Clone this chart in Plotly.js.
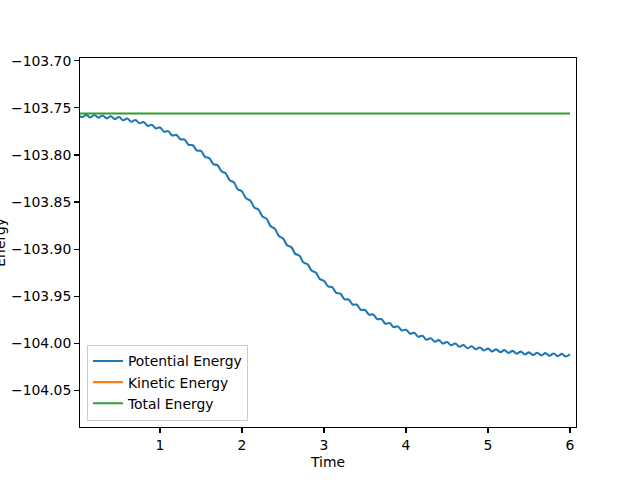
<!DOCTYPE html>
<html>
<head>
<meta charset="utf-8">
<script src="https://cdn.plot.ly/plotly-3.0.1.min.js"></script>
<style>html,body{margin:0;padding:0;background:#fff;}#chart{width:640px;height:480px;}</style>
</head>
<body>
<div id="chart"></div>
<script>
// Time samples (every 0.05)
const time = [0.00,0.05,0.10,0.15,0.20,0.25,0.30,0.35,0.40,0.45,0.50,0.55,0.60,0.65,0.70,0.75,0.80,0.85,0.90,0.95,
1.00,1.05,1.10,1.15,1.20,1.25,1.30,1.35,1.40,1.45,1.50,1.55,1.60,1.65,1.70,1.75,1.80,1.85,1.90,1.95,
2.00,2.05,2.10,2.15,2.20,2.25,2.30,2.35,2.40,2.45,2.50,2.55,2.60,2.65,2.70,2.75,2.80,2.85,2.90,2.95,
3.00,3.05,3.10,3.15,3.20,3.25,3.30,3.35,3.40,3.45,3.50,3.55,3.60,3.65,3.70,3.75,3.80,3.85,3.90,3.95,
4.00,4.05,4.10,4.15,4.20,4.25,4.30,4.35,4.40,4.45,4.50,4.55,4.60,4.65,4.70,4.75,4.80,4.85,4.90,4.95,
5.00,5.05,5.10,5.15,5.20,5.25,5.30,5.35,5.40,5.45,5.50,5.55,5.60,5.65,5.70,5.75,5.80,5.85,5.90,5.95,6.00];

// Potential energy (oscillating)
const potentialEnergy = [
-103.7572,-103.7599,-103.7574,-103.7601,-103.7576,-103.7603,-103.7581,-103.7611,-103.7589,-103.7619,
-103.7597,-103.7631,-103.7613,-103.7647,-103.7629,-103.7663,-103.7651,-103.7691,-103.7679,-103.7719,
-103.7707,-103.7753,-103.7747,-103.7793,-103.7787,-103.7833,-103.7837,-103.7893,-103.7897,-103.7953,
-103.7957,-103.8021,-103.8033,-103.8097,-103.8109,-103.8173,-103.8195,-103.8269,-103.8291,-103.8365,
-103.8387,-103.8461,-103.8483,-103.8557,-103.8579,-103.8653,-103.8679,-103.8757,-103.8783,-103.8861,
-103.8887,-103.8959,-103.8979,-103.9051,-103.9071,-103.9143,-103.9161,-103.9231,-103.9249,-103.9319,
-103.9337,-103.9397,-103.9405,-103.9465,-103.9473,-103.9533,-103.9535,-103.9589,-103.9591,-103.9645,
-103.9647,-103.9697,-103.9695,-103.9745,-103.9743,-103.9793,-103.9785,-103.9829,-103.9821,-103.9865,
-103.9857,-103.9899,-103.9889,-103.9931,-103.9921,-103.9963,-103.9947,-103.9983,-103.9967,-104.0003,
-103.9987,-104.0021,-104.0003,-104.0037,-104.0019,-104.0053,-104.0033,-104.0065,-104.0045,-104.0077,
-104.0057,-104.0087,-104.0065,-104.0095,-104.0073,-104.0103,-104.0081,-104.0111,-104.0089,-104.0119,
-104.0097,-104.0125,-104.0101,-104.0129,-104.0105,-104.0133,-104.0109,-104.0137,-104.0113,-104.0141,
-104.0117];

// Kinetic energy lies far above the visible y range (not visible in the plot)
const kineticTime = [0.0, 1.0, 2.0, 3.0, 4.0, 5.0, 6.0];
const kineticEnergy = [0.0015, 0.016, 0.084, 0.178, 0.231, 0.251, 0.257];

// Total energy (constant)
const totalTime = [0.0, 6.0];
const totalEnergy = [-103.756, -103.756];

const seriesNames = ['Potential Energy', 'Kinetic Energy', 'Total Energy'];
const xTicks = [1, 2, 3, 4, 5, 6];
const yTicks = [-103.70, -103.75, -103.80, -103.85, -103.90, -103.95, -104.00, -104.05];

const font = {family: 'DejaVu Sans', size: 13.9, color: '#000'};

const traces = [
  {x: time, y: potentialEnergy, name: seriesNames[0], mode: 'lines',
   line: {color: '#1f77b4', width: 2.08, shape: 'spline', smoothing: 1}},
  {x: kineticTime, y: kineticEnergy, name: seriesNames[1], mode: 'lines',
   line: {color: '#ff7f0e', width: 2.08}},
  {x: totalTime, y: totalEnergy, name: seriesNames[2], mode: 'lines',
   line: {color: '#2ca02c', width: 2.08}}
];

const axisCommon = {
  showline: true, linecolor: '#000', linewidth: 1.11, mirror: true,
  ticks: 'outside', ticklen: 4.86, tickwidth: 1.11, tickcolor: '#000',
  showgrid: false, zeroline: false, tickfont: font
};

const layout = {
  width: 640, height: 480,
  margin: {l: 80, r: 64, t: 57.6, b: 52.8},
  paper_bgcolor: '#fff', plot_bgcolor: '#fff',
  font: font,
  showlegend: true,
  xaxis: Object.assign({}, axisCommon, {
    range: [0.0244, 6.073], tickvals: xTicks, ticktext: xTicks.map(String),
    title: {text: 'Time', font: font, standoff: 5}
  }),
  yaxis: Object.assign({}, axisCommon, {
    range: [-104.089, -103.697], tickvals: yTicks,
    ticktext: yTicks.map(v => '\u2212' + Math.abs(v).toFixed(2))
  }),
  annotations: [{
    text: 'Energy', xref: 'paper', yref: 'paper', x: -0.163, y: 0.5,
    xanchor: 'center', yanchor: 'middle', textangle: -90, showarrow: false, font: font
  }],
  legend: {
    x: 0.014, y: 0.0176, xanchor: 'left', yanchor: 'bottom',
    bgcolor: 'rgba(255,255,255,0.8)', bordercolor: '#cccccc', borderwidth: 1,
    font: font, tracegroupgap: 0
  }
};

Plotly.newPlot('chart', traces, layout, {staticPlot: true, displayModeBar: false});
</script>
</body>
</html>
